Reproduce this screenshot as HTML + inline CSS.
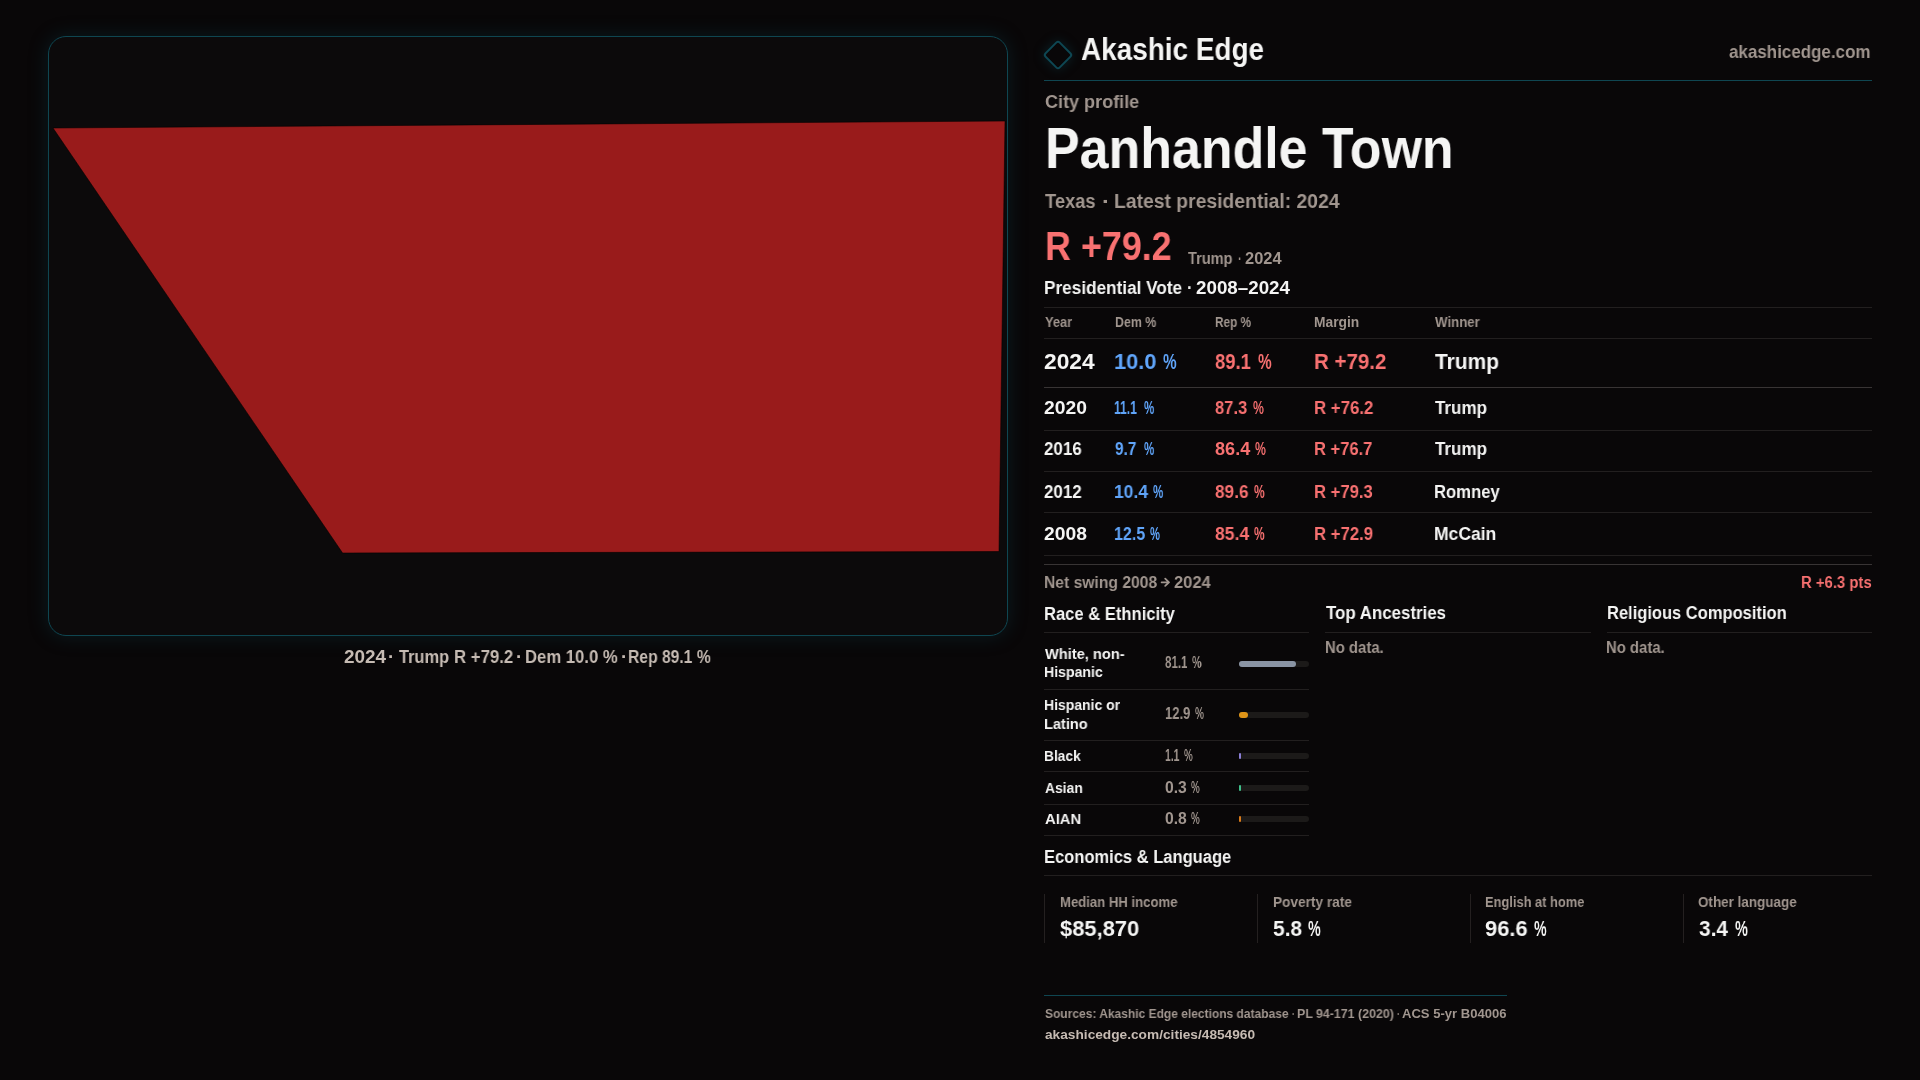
<!DOCTYPE html>
<html><head><meta charset="utf-8"><title>Panhandle Town · Akashic Edge</title>
<style>
html,body{margin:0;padding:0;}
body{width:1920px;height:1080px;background:#090708;position:relative;overflow:hidden;font-family:"Liberation Sans",sans-serif;font-weight:bold;}
.t{position:absolute;white-space:pre;transform-origin:0 0;will-change:transform;}
.bm{display:inline-block;width:0;height:0;vertical-align:baseline;}
.card{position:absolute;left:48px;top:36px;width:958px;height:598px;border:1px solid #0f4651;border-radius:18px;background:#0c0a0b;box-shadow:0 0 20px rgba(14,72,86,0.30);}
.ln{position:absolute;height:1px;background:#221f1f;}
.lnb{position:absolute;height:1px;background:#383434;}
.vl{position:absolute;width:1px;background:#242020;}
.tl{position:absolute;height:1px;background:#0f4651;}
.trk{position:absolute;left:1239px;width:70px;height:6px;border-radius:3px;background:#1c1a19;}
.fill{position:absolute;left:0;top:0;height:6px;border-radius:3px;}
svg{position:absolute;left:0;top:0;}
</style></head>
<body>
<div class="card"></div>
<svg width="1920" height="1080" viewBox="0 0 1920 1080">
  <polygon points="53,128 1005,121 999,551.5 342.6,553" fill="#991b1b" stroke="rgba(0,0,0,0.55)" stroke-width="1"/>
  <path d="M1161.6 582.3 H1169 M1165.2 578.7 L1169 582.3 L1165.2 585.9" fill="none" stroke="#a1968f" stroke-width="1.8" stroke-linecap="round" stroke-linejoin="round"/>
</svg>
<div style="position:absolute;left:1046.9px;top:44.3px;width:22px;height:22px;box-sizing:border-box;border:2.2px solid #0e4753;border-radius:3.5px;transform:rotate(45deg);box-shadow:0 0 12px rgba(14,80,94,0.35);"></div>
<div class="tl" style="left:1044px;top:80px;width:828px;"></div>
<div class="ln" style="left:1044px;top:307px;width:828px;"></div>
<div class="ln" style="left:1044px;top:338px;width:828px;"></div>
<div class="lnb" style="left:1044px;top:387px;width:828px;"></div>
<div class="ln" style="left:1044px;top:430px;width:828px;"></div>
<div class="ln" style="left:1044px;top:471px;width:828px;"></div>
<div class="ln" style="left:1044px;top:512px;width:828px;"></div>
<div class="ln" style="left:1044px;top:555px;width:828px;"></div>
<div class="lnb" style="left:1044px;top:564px;width:828px;"></div>
<div class="ln" style="left:1044px;top:632px;width:265px;"></div>
<div class="ln" style="left:1044px;top:689px;width:265px;"></div>
<div class="ln" style="left:1044px;top:740px;width:265px;"></div>
<div class="ln" style="left:1044px;top:771px;width:265px;"></div>
<div class="ln" style="left:1044px;top:804px;width:265px;"></div>
<div class="ln" style="left:1044px;top:835px;width:265px;"></div>
<div class="ln" style="left:1325px;top:632px;width:266px;"></div>
<div class="ln" style="left:1607px;top:632px;width:265px;"></div>
<div class="trk" style="top:661px;"><div class="fill" style="width:57px;background:#8a94a4;"></div></div>
<div class="trk" style="top:712px;"><div class="fill" style="width:9px;background:#de9418;"></div></div>
<div class="trk" style="top:753px;"><div class="fill" style="width:1.5px;background:#8b7fd6;"></div></div>
<div class="trk" style="top:785px;"><div class="fill" style="width:1.5px;background:#3fbf8a;"></div></div>
<div class="trk" style="top:816px;"><div class="fill" style="width:1.5px;background:#d87a1a;"></div></div>
<div class="ln" style="left:1044px;top:875px;width:828px;"></div>
<div class="vl" style="left:1044px;top:894px;height:49px;"></div>
<div class="vl" style="left:1257px;top:894px;height:49px;"></div>
<div class="vl" style="left:1470px;top:894px;height:49px;"></div>
<div class="vl" style="left:1683px;top:894px;height:49px;"></div>
<div class="tl" style="left:1044px;top:995px;width:463px;"></div>
<span class="t" id="t0" style="left:1080.80px;top:31.41px;font-size:30.5px;line-height:36.6px;color:#f5f5f4;transform:scaleX(0.9153);">Akashic Edge</span>
<span class="t" id="t1" style="left:1729.40px;top:41.61px;font-size:17.7px;line-height:21.24px;color:#a1968f;transform:scaleX(0.9595);">akashicedge.com</span>
<span class="t" id="t2" style="left:1044.50px;top:90.51px;font-size:18.4px;line-height:22.08px;color:#a1968f;transform:scaleX(0.9810);">City profile</span>
<span class="t" id="t3" style="left:1045.30px;top:114.01px;font-size:57.8px;line-height:69.36px;color:#f5f5f4;transform:scaleX(0.8984);">Panhandle Town</span>
<span class="t" id="t4" style="left:1044.75px;top:189.00px;font-size:20.3px;line-height:24.36px;color:#a1968f;transform:scaleX(0.9018);">Texas</span>
<span class="t" id="t5" style="left:1102.33px;top:189.00px;font-size:20.3px;line-height:24.36px;color:#a1968f;transform:scaleX(1.1750);">·</span>
<span class="t" id="t6" style="left:1113.55px;top:189.00px;font-size:20.3px;line-height:24.36px;color:#a1968f;transform:scaleX(0.9527);">Latest presidential: 2024</span>
<span class="t" id="t7" style="left:1044.86px;top:221.50px;font-size:41.2px;line-height:49.44px;color:#f87171;transform:scaleX(0.8709);">R +79.2</span>
<span class="t" id="t8" style="left:1188.30px;top:248.61px;font-size:16.1px;line-height:19.32px;color:#a1968f;transform:scaleX(0.9058);">Trump</span>
<span class="t" id="t9" style="left:1238.23px;top:248.61px;font-size:16.1px;line-height:19.32px;color:#a1968f;transform:scaleX(0.6667);">·</span>
<span class="t" id="t10" style="left:1245.20px;top:248.61px;font-size:16.1px;line-height:19.32px;color:#a1968f;transform:scaleX(1.0209);">2024</span>
<span class="t" id="t11" style="left:1044.26px;top:277.22px;font-size:18.3px;line-height:21.96px;color:#f5f5f4;transform:scaleX(0.9396);">Presidential Vote</span>
<span class="t" id="t12" style="left:1187.40px;top:277.22px;font-size:18.3px;line-height:21.96px;color:#f5f5f4;transform:scaleX(0.9000);">·</span>
<span class="t" id="t13" style="left:1195.80px;top:277.22px;font-size:18.3px;line-height:21.96px;color:#f5f5f4;transform:scaleX(1.0267);">2008–2024</span>
<span class="t" id="t14" style="left:1044.80px;top:314.81px;font-size:13.8px;line-height:16.56px;color:#a1968f;transform:scaleX(0.9333);">Year</span>
<span class="t" id="t15" style="left:1114.80px;top:314.81px;font-size:13.8px;line-height:16.56px;color:#a1968f;transform:scaleX(0.8964);">Dem %</span>
<span class="t" id="t16" style="left:1214.50px;top:314.81px;font-size:13.8px;line-height:16.56px;color:#a1968f;transform:scaleX(0.8521);">Rep %</span>
<span class="t" id="t17" style="left:1314.40px;top:314.81px;font-size:13.8px;line-height:16.56px;color:#a1968f;transform:scaleX(0.9956);">Margin</span>
<span class="t" id="t18" style="left:1434.60px;top:314.81px;font-size:13.8px;line-height:16.56px;color:#a1968f;transform:scaleX(0.9606);">Winner</span>
<span class="t" id="t19" style="left:1044.40px;top:348.00px;font-size:22.5px;line-height:27.0px;color:#f5f5f4;transform:scaleX(1.0131);">2024</span>
<span class="t" id="t20" style="left:1113.83px;top:348.00px;font-size:22.5px;line-height:27.0px;color:#60a5fa;transform:scaleX(0.9698);">10.0</span>
<span class="t" id="t21" style="left:1162.60px;top:348.00px;font-size:22.5px;line-height:27.0px;color:#60a5fa;transform:scaleX(0.6750);">%</span>
<span class="t" id="t22" style="left:1214.50px;top:348.00px;font-size:22.5px;line-height:27.0px;color:#f87171;transform:scaleX(0.8203);">89.1</span>
<span class="t" id="t23" style="left:1258.00px;top:348.00px;font-size:22.5px;line-height:27.0px;color:#f87171;transform:scaleX(0.6800);">%</span>
<span class="t" id="t24" style="left:1313.69px;top:348.00px;font-size:22.5px;line-height:27.0px;color:#f87171;transform:scaleX(0.9099);">R +79.2</span>
<span class="t" id="t25" style="left:1434.60px;top:348.00px;font-size:22.5px;line-height:27.0px;color:#f5f5f4;transform:scaleX(0.9308);">Trump</span>
<span class="t" id="t26" style="left:1044.40px;top:398.11px;font-size:18.1px;line-height:21.72px;color:#f5f5f4;transform:scaleX(1.0650);">2020</span>
<span class="t" id="t27" style="left:1114.13px;top:398.11px;font-size:18.1px;line-height:21.72px;color:#60a5fa;transform:scaleX(0.6666);">11.1</span>
<span class="t" id="t28" style="left:1143.60px;top:398.11px;font-size:18.1px;line-height:21.72px;color:#60a5fa;transform:scaleX(0.6375);">%</span>
<span class="t" id="t29" style="left:1214.50px;top:398.11px;font-size:18.1px;line-height:21.72px;color:#f87171;transform:scaleX(0.9132);">87.3</span>
<span class="t" id="t30" style="left:1252.70px;top:398.11px;font-size:18.1px;line-height:21.72px;color:#f87171;transform:scaleX(0.6750);">%</span>
<span class="t" id="t31" style="left:1313.57px;top:398.11px;font-size:18.1px;line-height:21.72px;color:#f87171;transform:scaleX(0.9297);">R +76.2</span>
<span class="t" id="t32" style="left:1434.50px;top:398.11px;font-size:18.1px;line-height:21.72px;color:#f5f5f4;transform:scaleX(0.9396);">Trump</span>
<span class="t" id="t33" style="left:1044.40px;top:439.41px;font-size:18.1px;line-height:21.72px;color:#f5f5f4;transform:scaleX(0.9356);">2016</span>
<span class="t" id="t34" style="left:1114.80px;top:439.41px;font-size:18.1px;line-height:21.72px;color:#60a5fa;transform:scaleX(0.8529);">9.7</span>
<span class="t" id="t35" style="left:1143.60px;top:439.41px;font-size:18.1px;line-height:21.72px;color:#60a5fa;transform:scaleX(0.6375);">%</span>
<span class="t" id="t36" style="left:1214.50px;top:439.41px;font-size:18.1px;line-height:21.72px;color:#f87171;transform:scaleX(0.9900);">86.4</span>
<span class="t" id="t37" style="left:1254.70px;top:439.41px;font-size:18.1px;line-height:21.72px;color:#f87171;transform:scaleX(0.6750);">%</span>
<span class="t" id="t38" style="left:1313.59px;top:439.41px;font-size:18.1px;line-height:21.72px;color:#f87171;transform:scaleX(0.9138);">R +76.7</span>
<span class="t" id="t39" style="left:1434.50px;top:439.41px;font-size:18.1px;line-height:21.72px;color:#f5f5f4;transform:scaleX(0.9396);">Trump</span>
<span class="t" id="t40" style="left:1044.40px;top:481.82px;font-size:18.1px;line-height:21.72px;color:#f5f5f4;transform:scaleX(0.9356);">2012</span>
<span class="t" id="t41" style="left:1113.84px;top:481.82px;font-size:18.1px;line-height:21.72px;color:#60a5fa;transform:scaleX(0.9633);">10.4</span>
<span class="t" id="t42" style="left:1153.10px;top:481.82px;font-size:18.1px;line-height:21.72px;color:#60a5fa;transform:scaleX(0.6375);">%</span>
<span class="t" id="t43" style="left:1214.50px;top:481.82px;font-size:18.1px;line-height:21.72px;color:#f87171;transform:scaleX(0.9501);">89.6</span>
<span class="t" id="t44" style="left:1254.00px;top:481.82px;font-size:18.1px;line-height:21.72px;color:#f87171;transform:scaleX(0.6625);">%</span>
<span class="t" id="t45" style="left:1313.58px;top:481.82px;font-size:18.1px;line-height:21.72px;color:#f87171;transform:scaleX(0.9202);">R +79.3</span>
<span class="t" id="t46" style="left:1433.58px;top:481.82px;font-size:18.1px;line-height:21.72px;color:#f5f5f4;transform:scaleX(0.9215);">Romney</span>
<span class="t" id="t47" style="left:1044.40px;top:523.70px;font-size:18.1px;line-height:21.72px;color:#f5f5f4;transform:scaleX(1.0650);">2008</span>
<span class="t" id="t48" style="left:1113.92px;top:523.70px;font-size:18.1px;line-height:21.72px;color:#60a5fa;transform:scaleX(0.8843);">12.5</span>
<span class="t" id="t49" style="left:1150.40px;top:523.70px;font-size:18.1px;line-height:21.72px;color:#60a5fa;transform:scaleX(0.6187);">%</span>
<span class="t" id="t50" style="left:1214.50px;top:523.70px;font-size:18.1px;line-height:21.72px;color:#f87171;transform:scaleX(0.9701);">85.4</span>
<span class="t" id="t51" style="left:1254.30px;top:523.70px;font-size:18.1px;line-height:21.72px;color:#f87171;transform:scaleX(0.6562);">%</span>
<span class="t" id="t52" style="left:1313.58px;top:523.70px;font-size:18.1px;line-height:21.72px;color:#f87171;transform:scaleX(0.9250);">R +72.9</span>
<span class="t" id="t53" style="left:1433.53px;top:523.70px;font-size:18.1px;line-height:21.72px;color:#f5f5f4;transform:scaleX(0.9680);">McCain</span>
<span class="t" id="t54" style="left:1043.87px;top:572.81px;font-size:16.8px;line-height:20.16px;color:#a1968f;transform:scaleX(0.9332);">Net swing 2008</span>
<span class="t" id="t55" style="left:1174.00px;top:572.81px;font-size:16.8px;line-height:20.16px;color:#a1968f;transform:scaleX(0.9842);">2024</span>
<span class="t" id="t56" style="left:1800.61px;top:572.81px;font-size:16.8px;line-height:20.16px;color:#f87171;transform:scaleX(0.8864);">R +6.3 pts</span>
<span class="t" id="t57" style="left:1043.89px;top:602.60px;font-size:18.3px;line-height:21.96px;color:#f5f5f4;transform:scaleX(0.9071);">Race &amp; Ethnicity</span>
<span class="t" id="t58" style="left:1325.70px;top:602.31px;font-size:18.3px;line-height:21.96px;color:#f5f5f4;transform:scaleX(0.9231);">Top Ancestries</span>
<span class="t" id="t59" style="left:1606.50px;top:602.31px;font-size:18.3px;line-height:21.96px;color:#f5f5f4;transform:scaleX(0.9025);">Religious Composition</span>
<span class="t" id="t60" style="left:1324.76px;top:637.90px;font-size:15.9px;line-height:19.08px;color:#a1968f;transform:scaleX(0.9368);">No data.</span>
<span class="t" id="t61" style="left:1606.46px;top:637.90px;font-size:15.9px;line-height:19.08px;color:#a1968f;transform:scaleX(0.9368);">No data.</span>
<span class="t" id="t62" style="left:1044.50px;top:644.71px;font-size:15.1px;line-height:18.12px;color:#f5f5f4;transform:scaleX(0.9680);">White, non-</span>
<span class="t" id="t63" style="left:1043.57px;top:663.41px;font-size:15.1px;line-height:18.12px;color:#f5f5f4;transform:scaleX(0.9347);">Hispanic</span>
<span class="t" id="t64" style="left:1043.57px;top:695.91px;font-size:15.1px;line-height:18.12px;color:#f5f5f4;transform:scaleX(0.9272);">Hispanic or</span>
<span class="t" id="t65" style="left:1043.54px;top:714.71px;font-size:15.1px;line-height:18.12px;color:#f5f5f4;transform:scaleX(0.9647);">Latino</span>
<span class="t" id="t66" style="left:1043.59px;top:747.00px;font-size:15.1px;line-height:18.12px;color:#f5f5f4;transform:scaleX(0.9102);">Black</span>
<span class="t" id="t67" style="left:1044.50px;top:778.91px;font-size:15.1px;line-height:18.12px;color:#f5f5f4;transform:scaleX(0.9173);">Asian</span>
<span class="t" id="t68" style="left:1044.50px;top:809.71px;font-size:15.1px;line-height:18.12px;color:#f5f5f4;transform:scaleX(0.9807);">AIAN</span>
<span class="t" id="t69" style="left:1165.00px;top:654.21px;font-size:15.7px;line-height:18.84px;color:#a1968f;transform:scaleX(0.7368);">81.1</span>
<span class="t" id="t70" style="left:1192.00px;top:654.21px;font-size:15.7px;line-height:18.84px;color:#a1968f;transform:scaleX(0.6786);">%</span>
<span class="t" id="t71" style="left:1165.00px;top:704.71px;font-size:15.7px;line-height:18.84px;color:#a1968f;transform:scaleX(0.8310);">12.9</span>
<span class="t" id="t72" style="left:1195.00px;top:704.71px;font-size:15.7px;line-height:18.84px;color:#a1968f;transform:scaleX(0.6429);">%</span>
<span class="t" id="t73" style="left:1165.00px;top:747.01px;font-size:15.7px;line-height:18.84px;color:#a1968f;transform:scaleX(0.6611);">1.1</span>
<span class="t" id="t74" style="left:1184.00px;top:747.01px;font-size:15.7px;line-height:18.84px;color:#a1968f;transform:scaleX(0.6286);">%</span>
<span class="t" id="t75" style="left:1165.00px;top:778.90px;font-size:15.7px;line-height:18.84px;color:#a1968f;transform:scaleX(0.9962);">0.3</span>
<span class="t" id="t76" style="left:1191.30px;top:778.90px;font-size:15.7px;line-height:18.84px;color:#a1968f;transform:scaleX(0.6286);">%</span>
<span class="t" id="t77" style="left:1165.00px;top:809.71px;font-size:15.7px;line-height:18.84px;color:#a1968f;transform:scaleX(0.9962);">0.8</span>
<span class="t" id="t78" style="left:1191.30px;top:809.71px;font-size:15.7px;line-height:18.84px;color:#a1968f;transform:scaleX(0.6286);">%</span>
<span class="t" id="t79" style="left:1043.90px;top:845.72px;font-size:18.3px;line-height:21.96px;color:#f5f5f4;transform:scaleX(0.9036);">Economics &amp; Language</span>
<span class="t" id="t80" style="left:1059.70px;top:893.80px;font-size:14.3px;line-height:17.16px;color:#a1968f;transform:scaleX(0.9184);">Median HH income</span>
<span class="t" id="t81" style="left:1272.70px;top:893.80px;font-size:14.3px;line-height:17.16px;color:#a1968f;transform:scaleX(0.9541);">Poverty rate</span>
<span class="t" id="t82" style="left:1485.30px;top:893.80px;font-size:14.3px;line-height:17.16px;color:#a1968f;transform:scaleX(0.8998);">English at home</span>
<span class="t" id="t83" style="left:1698.30px;top:893.80px;font-size:14.3px;line-height:17.16px;color:#a1968f;transform:scaleX(0.9408);">Other language</span>
<span class="t" id="t84" style="left:1060.10px;top:915.60px;font-size:22.3px;line-height:26.76px;color:#f5f5f4;transform:scaleX(0.9826);">$85,870</span>
<span class="t" id="t85" style="left:1272.70px;top:915.60px;font-size:22.3px;line-height:26.76px;color:#f5f5f4;transform:scaleX(0.9413);">5.8</span>
<span class="t" id="t86" style="left:1308.20px;top:915.60px;font-size:22.3px;line-height:26.76px;color:#f5f5f4;transform:scaleX(0.6450);">%</span>
<span class="t" id="t87" style="left:1485.30px;top:915.60px;font-size:22.3px;line-height:26.76px;color:#f5f5f4;transform:scaleX(0.9815);">96.6</span>
<span class="t" id="t88" style="left:1534.20px;top:915.60px;font-size:22.3px;line-height:26.76px;color:#f5f5f4;transform:scaleX(0.6400);">%</span>
<span class="t" id="t89" style="left:1698.70px;top:915.60px;font-size:22.3px;line-height:26.76px;color:#f5f5f4;transform:scaleX(0.9368);">3.4</span>
<span class="t" id="t90" style="left:1735.00px;top:915.60px;font-size:22.3px;line-height:26.76px;color:#f5f5f4;transform:scaleX(0.6500);">%</span>
<span class="t" id="t91" style="left:1044.50px;top:1007.11px;font-size:12.6px;line-height:15.12px;color:#a1968f;transform:scaleX(0.9525);">Sources: Akashic Edge elections database</span>
<span class="t" id="t92" style="left:1292.20px;top:1007.11px;font-size:12.6px;line-height:15.12px;color:#a1968f;transform:scaleX(0.6000);">·</span>
<span class="t" id="t93" style="left:1296.60px;top:1007.11px;font-size:12.6px;line-height:15.12px;color:#a1968f;transform:scaleX(0.9836);">PL 94-171 (2020)</span>
<span class="t" id="t94" style="left:1396.60px;top:1007.11px;font-size:12.6px;line-height:15.12px;color:#a1968f;transform:scaleX(0.6333);">·</span>
<span class="t" id="t95" style="left:1401.60px;top:1007.11px;font-size:12.6px;line-height:15.12px;color:#a1968f;transform:scaleX(1.0357);">ACS 5-yr B04006</span>
<span class="t" id="t96" style="left:1044.50px;top:1026.75px;font-size:13.6px;line-height:16.32px;color:#c6bbb3;transform:scaleX(1.0072);">akashicedge.com/cities/4854960</span>
<span class="t" id="t97" style="left:344.20px;top:646.51px;font-size:18.1px;line-height:21.72px;color:#c6bbb3;transform:scaleX(1.0463);">2024</span>
<span class="t" id="t98" style="left:388.37px;top:646.51px;font-size:18.1px;line-height:21.72px;color:#c6bbb3;transform:scaleX(1.0333);">·</span>
<span class="t" id="t99" style="left:398.75px;top:646.51px;font-size:18.1px;line-height:21.72px;color:#c6bbb3;transform:scaleX(0.9052);">Trump</span>
<span class="t" id="t100" style="left:454.07px;top:646.51px;font-size:18.1px;line-height:21.72px;color:#c6bbb3;transform:scaleX(0.9282);">R +79.2</span>
<span class="t" id="t101" style="left:516.47px;top:646.51px;font-size:18.1px;line-height:21.72px;color:#c6bbb3;transform:scaleX(1.0333);">·</span>
<span class="t" id="t102" style="left:524.88px;top:646.51px;font-size:18.1px;line-height:21.72px;color:#c6bbb3;transform:scaleX(0.9217);">Dem 10.0 %</span>
<span class="t" id="t103" style="left:620.67px;top:646.51px;font-size:18.1px;line-height:21.72px;color:#c6bbb3;transform:scaleX(1.0333);">·</span>
<span class="t" id="t104" style="left:628.13px;top:646.51px;font-size:18.1px;line-height:21.72px;color:#c6bbb3;transform:scaleX(0.8661);">Rep 89.1 %</span>
</body></html>
